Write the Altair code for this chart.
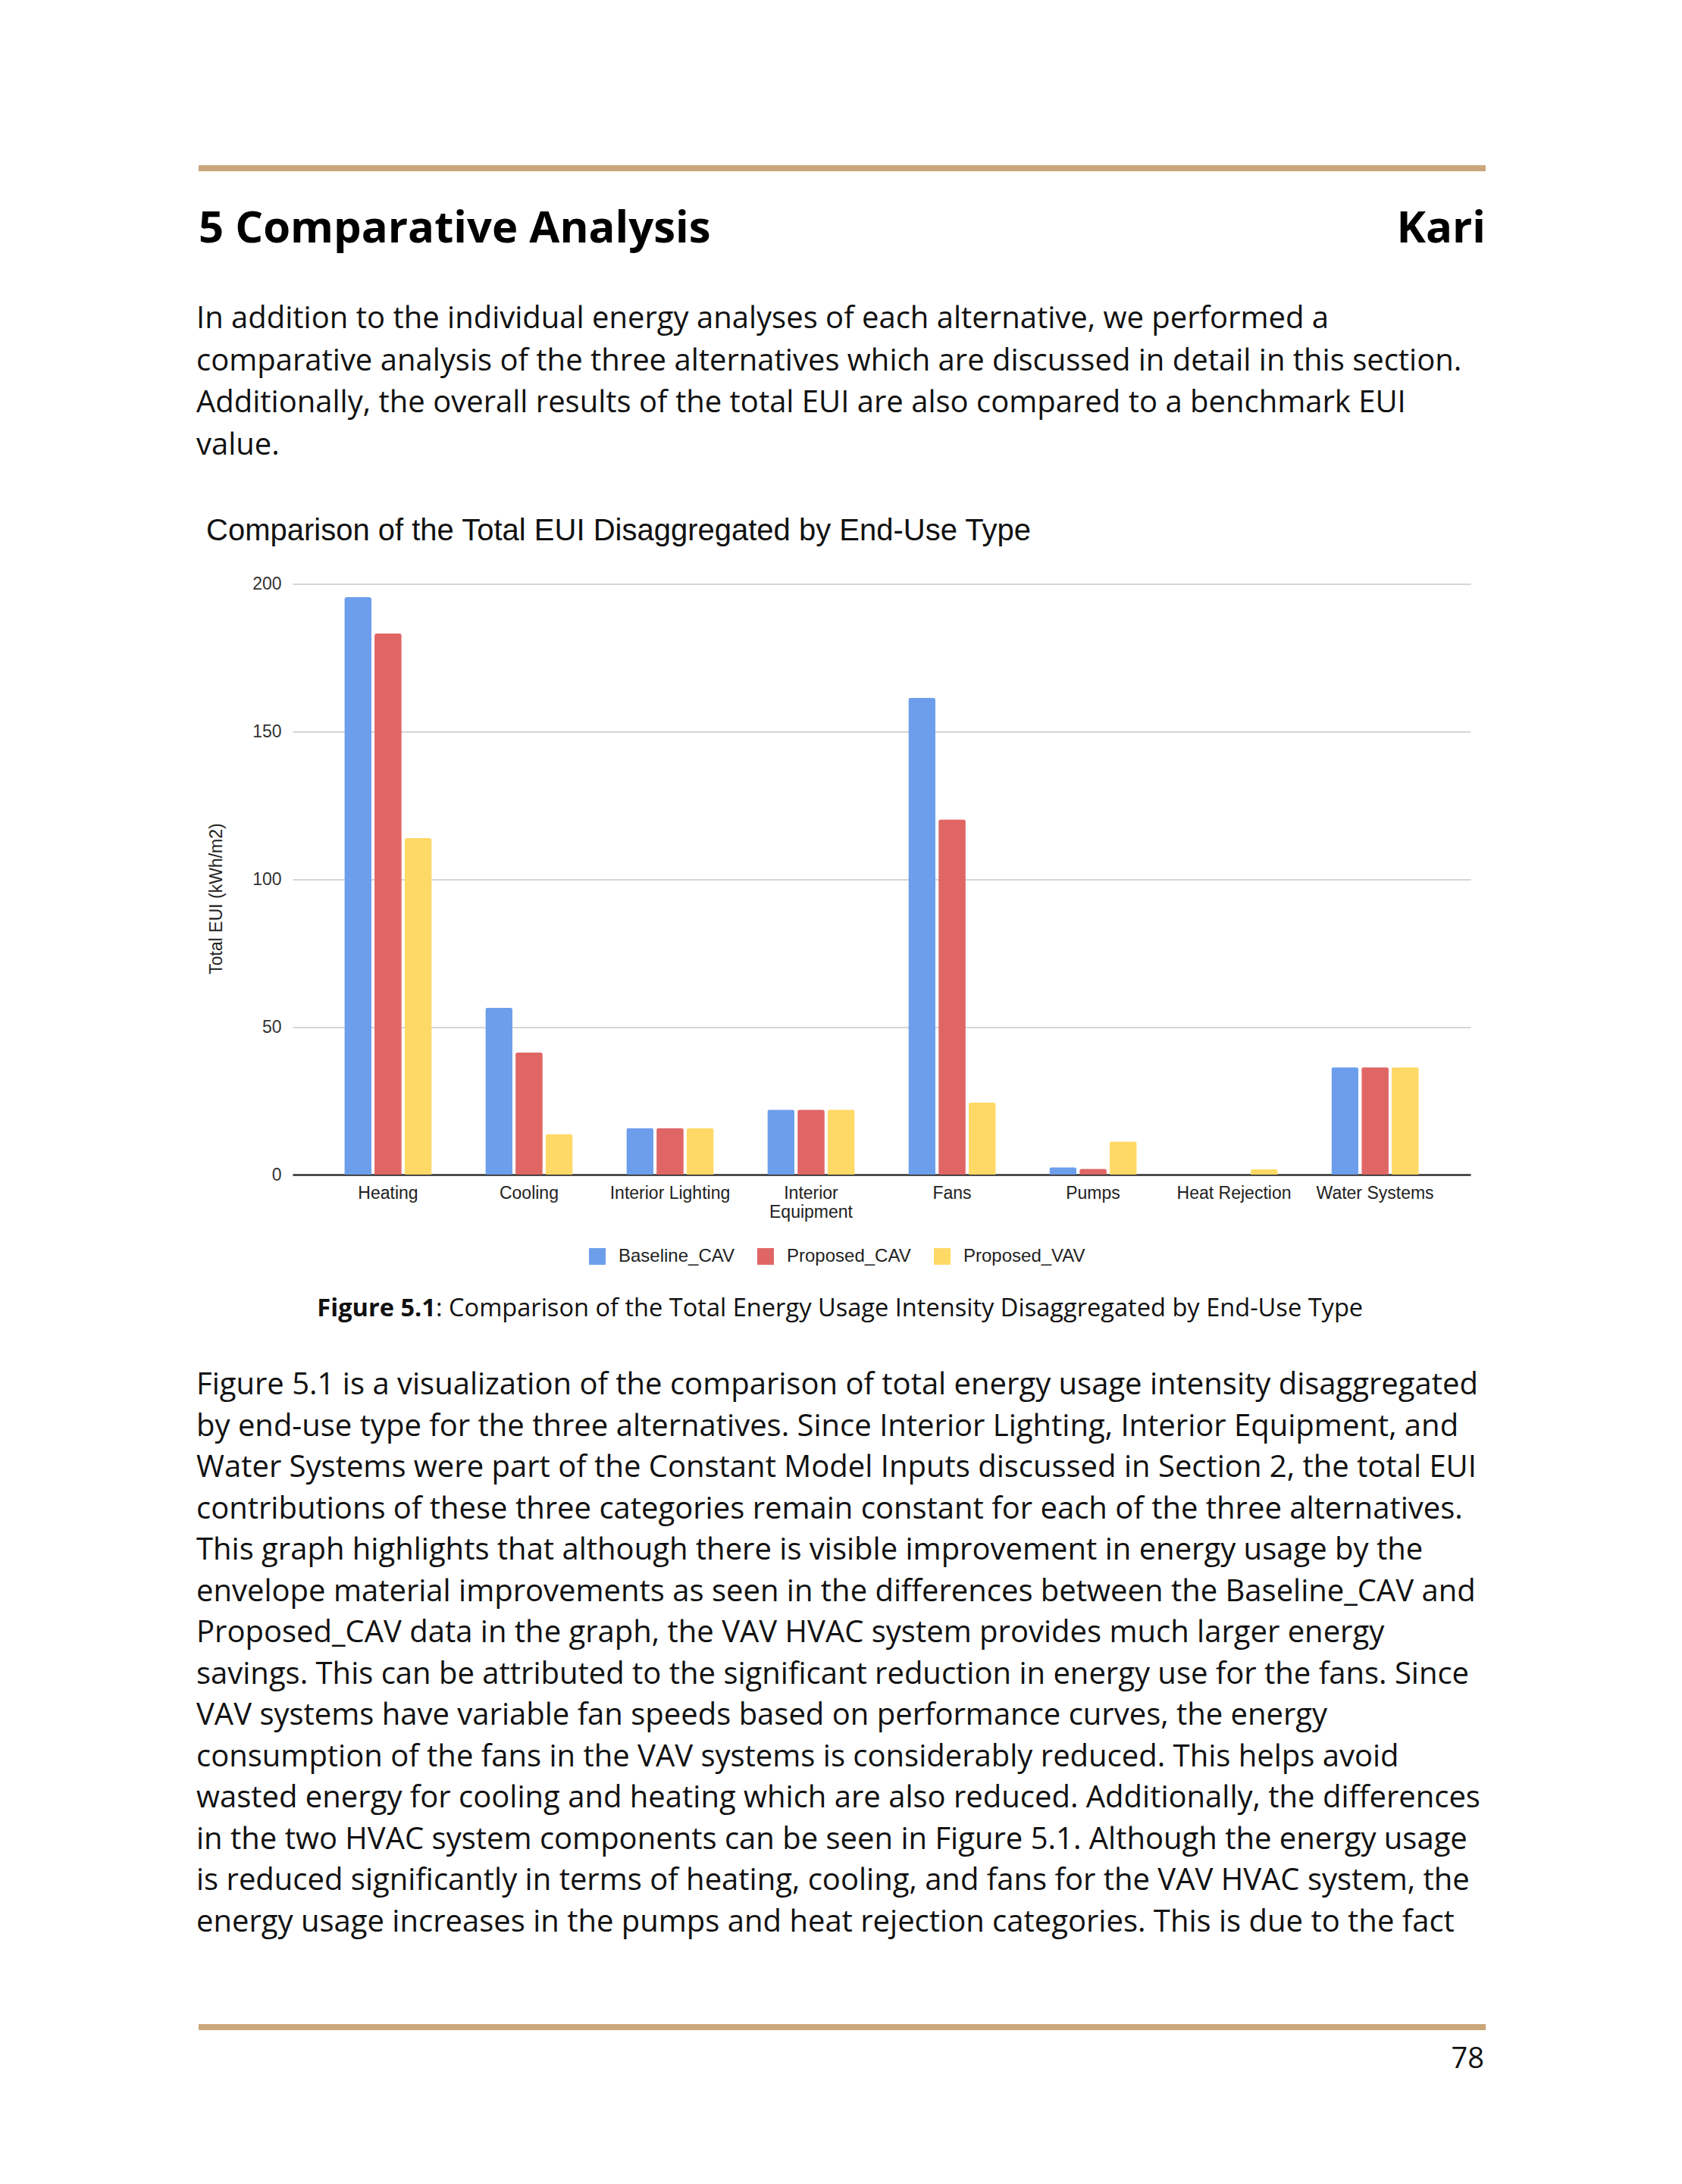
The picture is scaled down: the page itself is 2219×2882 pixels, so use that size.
import altair as alt
import pandas as pd

# ---------------- data ----------------
categories = ["Heating", "Cooling", "Interior Lighting", "Interior Equipment",
              "Fans", "Pumps", "Heat Rejection", "Water Systems"]
series = ["Baseline_CAV", "Proposed_CAV", "Proposed_VAV"]
baseline_cav = [195.5, 56.5, 15.8, 22.0, 161.4, 2.5, 0.0, 36.4]
proposed_cav = [183.2, 41.4, 15.8, 22.0, 120.3, 2.0, 0.0, 36.4]
proposed_vav = [113.9, 13.7, 15.8, 22.0, 24.4, 11.2, 1.8, 36.4]
colors = ["#6d9eeb", "#e06666", "#ffd966"]
y_ticks = [0, 50, 100, 150, 200]

chart_title = "Comparison of the Total EUI Disaggregated by End-Use Type"
y_title = "Total EUI (kWh/m2)"

heading = "5 Comparative Analysis"
author = "Kari"
para1 = [
    "In addition to the individual energy analyses of each alternative, we performed a",
    "comparative analysis of the three alternatives which are discussed in detail in this section.",
    "Additionally, the overall results of the total EUI are also compared to a benchmark EUI",
    "value.",
]
caption_bold = "Figure 5.1"
caption_rest = ": Comparison of the Total Energy Usage Intensity Disaggregated by End-Use Type"
para2 = [
    "Figure 5.1 is a visualization of the comparison of total energy usage intensity disaggregated",
    "by end-use type for the three alternatives. Since Interior Lighting, Interior Equipment, and",
    "Water Systems were part of the Constant Model Inputs discussed in Section 2, the total EUI",
    "contributions of these three categories remain constant for each of the three alternatives.",
    "This graph highlights that although there is visible improvement in energy usage by the",
    "envelope material improvements as seen in the differences between the Baseline_CAV and",
    "Proposed_CAV data in the graph, the VAV HVAC system provides much larger energy",
    "savings. This can be attributed to the significant reduction in energy use for the fans. Since",
    "VAV systems have variable fan speeds based on performance curves, the energy",
    "consumption of the fans in the VAV systems is considerably reduced. This helps avoid",
    "wasted energy for cooling and heating which are also reduced. Additionally, the differences",
    "in the two HVAC system components can be seen in Figure 5.1. Although the energy usage",
    "is reduced significantly in terms of heating, cooling, and fans for the VAV HVAC system, the",
    "energy usage increases in the pumps and heat rejection categories. This is due to the fact",
]
page_number = "78"

rows = []
for i, c in enumerate(categories):
    for s, vals in zip(series, [baseline_cav, proposed_cav, proposed_vav]):
        rows.append({"category": c, "series": s, "value": vals[i]})
df = pd.DataFrame(rows)

# ---------------- layout (plot area in page pixels) ----------------
PLOT_LEFT, PLOT_TOP = 386, 770.5
W, H = 1554, 779.5
PAGE_W, PAGE_H = 2203, 2866  # page minus 8px margins


def px(x):
    return x - PLOT_LEFT


def py(y):
    return y - PLOT_TOP


BODY_FONT = "Open Sans"
CHART_FONT = "Arial, Liberation Sans"
TAN = "#c9a77a"

bars = alt.Chart(df).mark_bar(
    cornerRadiusTopLeft=3, cornerRadiusTopRight=3
).encode(
    x=alt.X(
        "category:N", sort=categories, title=None,
        scale=alt.Scale(paddingInner=0.38, paddingOuter=0.367),
        axis=alt.Axis(
            labelAngle=0, labelFont=CHART_FONT, labelFontSize=23,
            labelColor="#222222", labelPadding=13, labelBaseline="top",
            labelLineHeight=25, ticks=False, domainColor="#333333",
            domainWidth=2.5, grid=False, labelLimit=300,
            labelExpr="datum.label == 'Interior Equipment' ? ['Interior', 'Equipment'] : datum.label",
        ),
    ),
    xOffset=alt.XOffset("series:N", sort=series,
                        scale=alt.Scale(paddingInner=0.1, paddingOuter=0)),
    y=alt.Y(
        "value:Q", title=y_title,
        scale=alt.Scale(domain=[0, 200], nice=False),
        axis=alt.Axis(
            values=y_ticks, labelFont=CHART_FONT, labelFontSize=23,
            labelColor="#333333", labelPadding=15, ticks=False, domain=False,
            gridColor="#c8c8c8", gridWidth=1.6,
            titleFont=CHART_FONT, titleFontSize=23, titleFontWeight="normal",
            titleColor="#222222", titleX=-101, titleY=415, titleAngle=-90,
            titleAlign="center", titleBaseline="middle",
        ),
    ),
    color=alt.Color(
        "series:N", sort=series,
        scale=alt.Scale(domain=series, range=colors),
        legend=alt.Legend(
            title=None, orient="none", direction="horizontal",
            legendX=390, legendY=875.5, symbolType="square", symbolSize=484,
            symbolStrokeWidth=0, symbolOpacity=1, labelFont=CHART_FONT,
            labelFontSize=24, labelColor="#222222", labelOffset=16,
            labelLimit=400, columnPadding=29, padding=0,
        ),
    ),
)


def one():
    return pd.DataFrame({"k": [0]})


def text_layer(txt, x, y, size, font=BODY_FONT, weight="normal", align="left",
               color="#000000", line_height=None):
    kw = dict(font=font, fontSize=size, fontWeight=weight, align=align,
              baseline="alphabetic", color=color)
    if line_height is not None:
        kw["lineHeight"] = line_height
    return alt.Chart(one()).mark_text(**kw).encode(
        x=alt.value(px(x)), y=alt.value(py(y)), text=alt.value(txt)
    )


def hrule(y):
    return alt.Chart(one()).mark_rule(color=TAN, strokeWidth=8).encode(
        x=alt.value(px(262)), x2=alt.value(px(1960)), y=alt.value(py(y))
    )


layers = [
    hrule(222),
    text_layer(heading, 262, 320, 58, weight="bold"),
    text_layer(author, 1960, 320, 58, weight="bold", align="right"),
    text_layer(para1, 259, 433, 40, color="#111111", line_height=55.5),
    text_layer(chart_title, 272, 713, 40, font=CHART_FONT, color="#111111"),
    bars,
    text_layer(caption_bold, 575, 1737, 32.6, weight="bold", align="right", color="#111111"),
    text_layer(caption_rest, 575, 1737, 32.6, align="left", color="#111111"),
    text_layer(para2, 259, 1840, 40, color="#111111", line_height=54.5),
    hrule(2675),
    text_layer(page_number, 1958, 2729, 38, align="right", color="#111111"),
]

chart = alt.layer(*layers).properties(
    width=W, height=H,
    autosize=alt.AutoSizeParams(type="none"),
    padding={"left": PLOT_LEFT - 8, "top": PLOT_TOP - 8,
             "right": PAGE_W - (PLOT_LEFT - 8) - W,
             "bottom": PAGE_H - (PLOT_TOP - 8) - H},
    background="white",
).configure_view(stroke=None)

chart.save("out.html", embed_options={"renderer": "svg", "actions": False})
